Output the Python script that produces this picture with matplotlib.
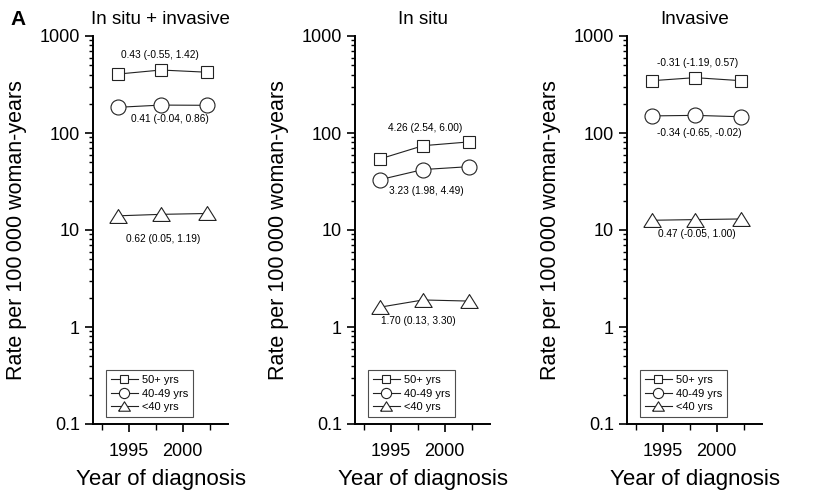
import matplotlib
matplotlib.use("Agg")
import matplotlib.pyplot as plt
import matplotlib.ticker as ticker

plt.rcParams['font.family'] = ['Liberation Sans', 'DejaVu Sans']

# mid-year of each diagnosis period
years = [1994, 1998, 2002.3]

# In situ + invasive
both_50 = [405, 446, 423]
both_4049 = [184, 194, 193]
both_u40 = [14.0, 14.5, 14.8]
# In situ
insitu_50 = [54, 74, 81]
insitu_4049 = [33, 42, 45]
insitu_u40 = [1.6, 1.9, 1.85]
# Invasive
inv_50 = [346, 372, 346]
inv_4049 = [150, 152, 147]
inv_u40 = [12.6, 12.8, 13.0]

titles = ['In situ + invasive', 'In situ', 'Invasive']
series_labels = ['50+ yrs', '40-49 yrs', '<40 yrs']

# annual percent change (95% CI) labels
apc_both = ['0.43 (-0.55, 1.42)', '0.41 (-0.04, 0.86)', '0.62 (0.05, 1.19)']
apc_insitu = ['4.26 (2.54, 6.00)', '3.23 (1.98, 4.49)', '1.70 (0.13, 3.30)']
apc_inv = ['-0.31 (-1.19, 0.57)', '-0.34 (-0.65, -0.02)', '0.47 (-0.05, 1.00)']

panels = [
    (titles[0], [both_50, both_4049, both_u40], apc_both),
    (titles[1], [insitu_50, insitu_4049, insitu_u40], apc_insitu),
    (titles[2], [inv_50, inv_4049, inv_u40], apc_inv),
]

# where the APC labels sit (year, rate) in each panel
label_pos = [
    [(1997.9, 640), (1998.8, 139), (1998.2, 8.1)],
    [(1998.2, 113), (1998.3, 25), (1997.6, 1.15)],
    [(1998.2, 527), (1998.4, 100), (1998.2, 9.1)],
]

tri = [(-1, -0.8), (1, -0.8), (0, 0.8), (-1, -0.8)]
markers = ['s', 'o', tri]
msizes = [9.3, 10.8, 12.5]

fig = plt.figure(figsize=(8.27, 4.96), dpi=100)
lefts = [93 / 827, 355 / 827, 627 / 827]
w = 135 / 827
b = (496 - 424) / 496
h = 388 / 496

for i, (title, series, apcs) in enumerate(panels):
    ax = fig.add_axes([lefts[i], b, w, h])
    for s, lab, mk, ms in zip(series, series_labels, markers, msizes):
        ax.plot(years, s, color='#222222', lw=0.8, marker=mk, ms=ms,
                mfc='white', mec='#222222', mew=0.8, label=lab)
    for txt, (px, py) in zip(apcs, label_pos[i]):
        ax.text(px, py, txt, fontsize=7.3, ha='center', va='center')

    ax.set_yscale('log')
    ax.set_ylim(0.1, 1000)
    ax.set_xlim(1991.7, 2004.2)
    ax.yaxis.set_major_locator(ticker.FixedLocator([0.1, 1, 10, 100, 1000]))
    ax.yaxis.set_major_formatter(ticker.FixedFormatter(['0.1', '1', '10', '100', '1000']))
    ax.yaxis.set_minor_locator(ticker.LogLocator(base=10, subs=range(2, 10)))
    ax.yaxis.set_minor_formatter(ticker.NullFormatter())
    ax.xaxis.set_major_locator(ticker.FixedLocator([1995, 2000]))
    ax.xaxis.set_minor_locator(ticker.FixedLocator([1992.5, 1997.5, 2002.5]))

    for sp in ['top', 'right']:
        ax.spines[sp].set_visible(False)
    for sp in ['left', 'bottom']:
        ax.spines[sp].set_linewidth(1.4)
    ax.tick_params(axis='both', which='major', length=5.5, width=1.2,
                   labelsize=13, direction='out')
    ax.tick_params(axis='both', which='minor', length=3, width=1.0, direction='out')
    ax.tick_params(axis='x', which='major', pad=8)
    ax.tick_params(axis='x', which='minor', length=4)
    ax.tick_params(axis='y', which='major', pad=4)

    ax.set_title(title, fontsize=13.5, pad=9)
    ax.set_xlabel('Year of diagnosis', fontsize=16, labelpad=7)
    ax.set_ylabel('Rate per 100\u2009000 woman-years', fontsize=15.5)
    ax.yaxis.set_label_coords(-0.49, 0.5)

    leg = ax.legend(loc='lower left', bbox_to_anchor=(0.096, 0.018), borderaxespad=0,
                    fontsize=8, markerscale=0.68, handlelength=2.4, handletextpad=0.4,
                    labelspacing=0.3, borderpad=0.45, fancybox=False, frameon=True)
    leg.get_frame().set_edgecolor('#222222')
    leg.get_frame().set_linewidth(0.8)

fig.text(10 / 827, 1 - 25 / 496, 'A', fontsize=15, fontweight='bold', va='baseline')

fig.savefig('out.png', dpi=100)
